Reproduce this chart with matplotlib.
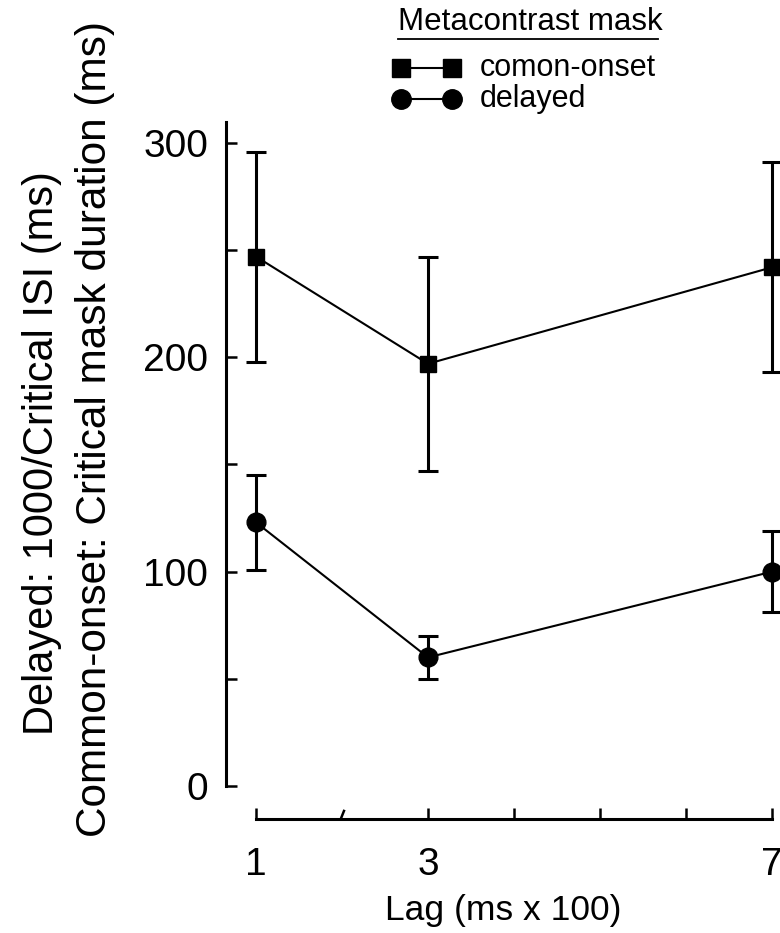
import numpy as np
import matplotlib
matplotlib.use('Agg')
import matplotlib.pyplot as plt
from matplotlib.lines import Line2D
from matplotlib.path import Path
from matplotlib.transforms import blended_transform_factory

plt.rcParams['font.family'] = ['Liberation Sans', 'DejaVu Sans']

# Data.
lags = [1, 3, 7]
onset_mean = [247, 197, 242]
onset_err = [49, 50, 49]
delayed_mean = [123, 60, 100]
delayed_err = [22, 10, 19]

W, H = 780, 933


def fx(px):
    return px / W


def fy(py):
    return 1 - py / H


fig = plt.figure(figsize=(W / 100, H / 100), dpi=100)
ax = fig.add_axes([fx(226), fy(819), fx(780) - fx(226), fy(122) - fy(819)])

ax.set_xlim(0.651, 7.093)
ax.set_ylim(-15.4, 309.8)

# Plot the data.
style = dict(color='black', lw=1.5, elinewidth=2.2, capsize=7, capthick=2.2,
             clip_on=False)
ax.errorbar(lags, onset_mean, yerr=onset_err, marker='s', ms=12, **style)
ax.errorbar(lags, delayed_mean, yerr=delayed_err, marker='o', ms=13.5,
            **style)

# Axis styling.
for loc in ['top', 'right']:
    ax.spines[loc].set_visible(False)
ax.spines['left'].set_linewidth(2.2)
ax.spines['bottom'].set_linewidth(2.2)
ax.spines['left'].set_bounds(0, 309.8)
ax.spines['bottom'].set_bounds(1, 7)

ax.set_yticks([0, 100, 200, 300])
ax.set_yticks([50, 150, 250], minor=True)
ax.set_xticks([1, 3, 7])
ax.set_xticks([4, 5, 6], minor=True)
ax.tick_params(axis='both', which='both', direction='in', length=8,
               width=1.8, labelsize=28)
ax.tick_params(axis='y', which='major', pad=13)
ax.tick_params(axis='x', which='major', pad=20)

# Small slanted mark at lag 2 on the x axis.
trans = blended_transform_factory(ax.transData, ax.transAxes)
slash = Path([(-0.2, 0), (0.2, 1)], [Path.MOVETO, Path.LINETO])
ax.plot([2], [0], marker=slash, ms=14, mec='black', mew=1.8,
        transform=trans, clip_on=False)

ax.set_xlabel("Lag (ms x 100)", fontsize=25.5, labelpad=8)

fig.text(fx(42), fy(453), "Delayed: 1000/Critical ISI (ms)", rotation=90,
         ha='center', va='center', fontsize=30)
fig.text(fx(95), fy(429), "Common-onset: Critical mask duration (ms)",
         rotation=90, ha='center', va='center', fontsize=30.5)

# Legend drawn by hand.
fig.text(fx(398), fy(22), "Metacontrast mask", ha='left', va='center',
         fontsize=22.5)
fig.add_artist(Line2D([fx(398), fx(658)], [fy(39), fy(39)], color='black',
                      lw=1.3, transform=fig.transFigure))
for yrow, mk, ms, label in [(68, 's', 12.5, "comon-onset"),
                            (99, 'o', 14, "delayed")]:
    fig.add_artist(Line2D([fx(401), fx(452)], [fy(yrow), fy(yrow)],
                          color='black', lw=1.5, marker=mk, ms=ms,
                          transform=fig.transFigure))
    fig.text(fx(480), fy(yrow), label, ha='left', va='center', fontsize=22)

fig.savefig('out.png', dpi=100)
